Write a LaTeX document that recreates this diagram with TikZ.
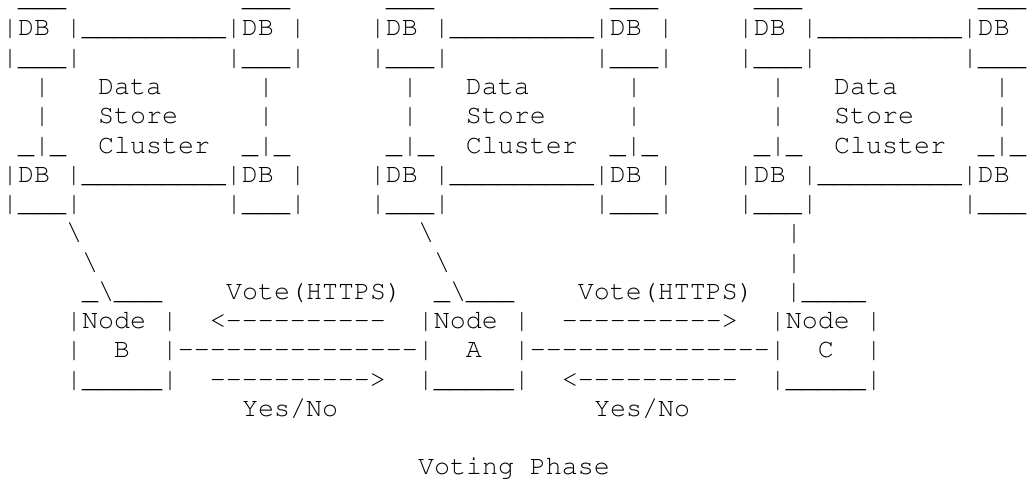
\documentclass[tikz,border=0pt]{standalone}
\usepackage[T1]{fontenc}
\renewcommand\ttdefault{pcr}
\ExplSyntaxOn
\cs_new:Npn \rep #1#2 { \prg_replicate:nn {#1} {#2{}} }
\ExplSyntaxOff
\newdimen\cw \cw=16pt
\newcommand\sk[1]{\kern#1\cw}
\newcommand\us[1]{\rep{#1}{\_}}
\newcommand\hy[1]{\rep{#1}{-}}
\newcommand\bs{\textbackslash}
\newcommand\asciifont{\ttfamily\fontsize{26.6667pt}{29.25pt}\selectfont}
\newcommand\dbrow{|DB\sk1|\us9|DB\sk1|}
\newcommand\dbbot{|\us3|\sk9|\us3|}
\tikzset{row/.style={anchor=base west, inner sep=0pt, outer sep=0pt, font=\asciifont, text=black}}
\begin{document}
\begin{tikzpicture}[x=1pt,y=1pt]
\useasboundingbox (0,0) rectangle (1032,483);
\node[row] (r0)  at (2,476.25) {\sk1\us3\sk{11}\us3\sk6\us3\sk{11}\us3\sk6\us3\sk{11}\us3};
\node[row] (r1)  at (2,447)    {\dbrow\sk4\dbrow\sk4\dbrow};
\node[row] (r2)  at (2,417.75) {\dbbot\sk4\dbbot\sk4\dbbot};
\node[row] (r3)  at (2,388.5)  {\sk2|\sk3Data\sk6|\sk8|\sk3Data\sk6|\sk8|\sk3Data\sk6|};
\node[row] (r4)  at (2,359.25) {\sk2|\sk3Store\sk5|\sk8|\sk3Store\sk5|\sk8|\sk3Store\sk5|};
\node[row] (r5)  at (2,330)    {\sk1\_|\_\sk2Cluster\sk2\_|\_\sk6\_|\_\sk2Cluster\sk2\_|\_\sk6\_|\_\sk2Cluster\sk2\_|\_};
\node[row] (r6)  at (2,300.75) {\dbrow\sk4\dbrow\sk4\dbrow};
\node[row] (r7)  at (2,271.5)  {\dbbot\sk4\dbbot\sk4\dbbot};
\node[row] (r8)  at (2,242.25) {\sk4\bs\sk{21}\bs\sk{22}|};
\node[row] (r9)  at (2,213)    {\sk5\bs\sk{21}\bs\sk{21}|};
\node[row] (r10) at (2,183.75) {\sk5\_\bs\us3\sk4Vote(HTTPS)\sk2\_\bs\us3\sk4Vote(HTTPS)\sk2|\us4};
\node[row] (r11) at (2,154.5)  {\sk4|Node\sk1|\sk2<\hy{10}\sk2|Node\sk1|\sk2\hy{10}>\sk2|Node\sk1|};
\node[row] (r12) at (2,125.25) {\sk4|\sk2B\sk2|\hy{15}|\sk2A\sk2|\hy{15}|\sk2C\sk2|};
\node[row] (r13) at (2,96)     {\sk4|\us5|\sk2\hy{10}>\sk2|\us5|\sk2<\hy{10}\sk2|\us5|};
\node[row] (r14) at (2,66.75)  {\sk{15}Yes/No\sk{16}Yes/No};
\node[row] (r16) at (2,8.25)   {\sk{26}Voting\sk1Phase};
\end{tikzpicture}
\end{document}
